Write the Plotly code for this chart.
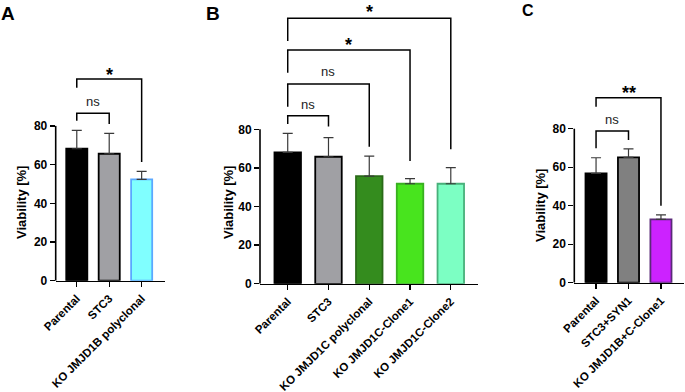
import plotly.graph_objects as go

W, H = 685, 392

# ---------------- data ----------------
a_labels = ["Parental", "STC3", "KO JMJD1B polyclonal"]
a_means = [68.2, 65.6, 52.4]
a_errs = [9.5, 10.5, 4.1]
a_fill = ["#000000", "#A0A0A4", "#80FFFF"]
a_edge = ["#000000", "#000000", "#5AA8FF"]

b_labels = ["Parental", "STC3", "KO JMJD1C polyclonal", "KO JMJD1C-Clone1", "KO JMJD1C-Clone2"]
b_means = [68.1, 65.8, 55.8, 51.8, 51.8]
b_errs = [9.8, 9.9, 10.3, 2.7, 8.4]
b_fill = ["#000000", "#A0A0A4", "#348C1E", "#48E41E", "#7CFFC3"]
b_edge = ["#000000", "#000000", "#2A6A18", "#38B020", "#48B07A"]

c_labels = ["Parental", "STC3+SYN1", "KO JMJD1B+C-Clone1"]
c_means = [56.8, 65.1, 32.9]
c_errs = [8.1, 4.4, 2.3]
c_fill = ["#000000", "#808080", "#CC22FF"]
c_edge = ["#000000", "#000000", "#5A2A78"]

y_ticks = [0, 20, 40, 60, 80]

# brackets: (from index, to index, bar height, left leg end, right leg end, label, label y)
a_brackets = [(0, 1, 86.5, 82.7, 81.0, "ns", 92.7),
              (0, 2, 104.2, 99.7, 61.3, "*", 108.9)]
b_brackets = [(0, 1, 87.0, 82.8, 81.4, "ns", 93.1),
              (0, 2, 103.5, 91.7, 71.0, "ns", 109.8),
              (0, 3, 121.1, 109.3, 63.6, "*", 126.3),
              (0, 4, 137.5, 125.7, 69.7, "*", 143.2)]
c_brackets = [(0, 1, 78.8, 69.8, 74.1, "ns", 84.9),
              (0, 2, 96.1, 91.4, 40.0, "**", 101.0)]

# ---------------- layout geometry (pixels) ----------------
panels = [
    dict(s="", labels=a_labels, means=a_means, errs=a_errs, fill=a_fill, edge=a_edge, br=a_brackets,
         xl=55.7, xr=165.0, xmin=-0.65, xmax=2.72, y0=280.7, k=1.935, tx=21, ty=203,
         letter="A", lx=8, ly=13, ls=19),
    dict(s="2", labels=b_labels, means=b_means, errs=b_errs, fill=b_fill, edge=b_edge, br=b_brackets,
         xl=260.0, xr=477.7, xmin=-0.68, xmax=4.66, y0=283.8, k=1.931, tx=228, ty=203,
         letter="B", lx=213, ly=13, ls=19),
    dict(s="3", labels=c_labels, means=c_means, errs=c_errs, fill=c_fill, edge=c_edge, br=c_brackets,
         xl=574.3, xr=684.0, xmin=-0.67, xmax=2.71, y0=282.7, k=1.925, tx=540, ty=206,
         letter="C", lx=528, ly=11, ls=16),
]

FONT = "Liberation Sans, Arial, sans-serif"

fig = go.Figure()
shapes = []
annotations = []
layout = {}

for p in panels:
    s = p["s"]
    xs = list(range(len(p["labels"])))
    fig.add_trace(go.Bar(
        x=xs, y=p["means"], width=0.65,
        marker=dict(color=p["fill"], line=dict(color=p["edge"], width=1.8)),
        error_y=dict(type="data", symmetric=False, array=p["errs"],
                     arrayminus=[0] * len(xs), color="#3A3A3A", thickness=1.2, width=5),
        xaxis="x" + s, yaxis="y" + s, showlegend=False, hoverinfo="skip",
    ))
    ytop = p["y0"] / p["k"]
    layout["xaxis" + s] = dict(
        domain=[p["xl"] / W, p["xr"] / W], range=[p["xmin"], p["xmax"]],
        anchor="y" + s, tickmode="array", tickvals=xs, ticktext=p["labels"],
        tickangle=-45, showline=True, linecolor="black", linewidth=1.6,
        ticks="outside", ticklen=5, tickwidth=1.4, tickcolor="black",
        showgrid=False, zeroline=False, automargin=False,
        tickfont=dict(family=FONT, size=11.5, color="black", weight="bold"),
    )
    layout["yaxis" + s] = dict(
        domain=[(H - p["y0"]) / H, 1], range=[0, ytop], anchor="x" + s,
        tickmode="array", tickvals=y_ticks, ticktext=[str(v) for v in y_ticks],
        showline=False, ticks="outside", ticklen=5, tickwidth=1.4, tickcolor="black",
        showgrid=False, zeroline=False, automargin=False,
        tickfont=dict(family=FONT, size=12, color="black", weight="bold"),
    )
    shapes.append(dict(type="line", xref="paper", yref="y" + s,
                       x0=p["xl"] / W, x1=p["xl"] / W, y0=0, y1=max(y_ticks),
                       line=dict(color="black", width=1.6)))
    for (i, j, h, le, re, lab, ly) in p["br"]:
        shapes.append(dict(type="path", xref="x" + s, yref="y" + s,
                           path=f"M {i},{le} L {i},{h} L {j},{h} L {j},{re}",
                           line=dict(color="black", width=1.5)))
        star = "*" in lab
        annotations.append(dict(
            xref="x" + s, yref="y" + s, x=(i + j) / 2, y=ly, text=lab, showarrow=False,
            xanchor="center", yanchor="middle", yshift=-5 if star else 0,
            font=dict(family=FONT, size=18 if star else 13,
                      color="black" if star else "#222222",
                      weight="bold" if star else "normal"),
        ))
    annotations.append(dict(
        xref="paper", yref="paper", x=p["tx"] / W, y=1 - p["ty"] / H, text="Viability [%]",
        textangle=-90, showarrow=False, xanchor="center", yanchor="middle",
        font=dict(family=FONT, size=13, color="black", weight="bold"),
    ))
    annotations.append(dict(
        xref="paper", yref="paper", x=p["lx"] / W, y=1 - p["ly"] / H, text=p["letter"],
        showarrow=False, xanchor="center", yanchor="middle",
        font=dict(family=FONT, size=p["ls"], color="black", weight="bold"),
    ))

fig.update_layout(
    width=W, height=H, margin=dict(l=0, r=0, t=0, b=0),
    paper_bgcolor="white", plot_bgcolor="white",
    shapes=shapes, annotations=annotations, bargap=0,
    **layout,
)

fig.write_html("out.html",
               config={"displayModeBar": False, "staticPlot": True},
               post_script="document.body.style.margin='0';document.body.style.overflow='hidden';")
